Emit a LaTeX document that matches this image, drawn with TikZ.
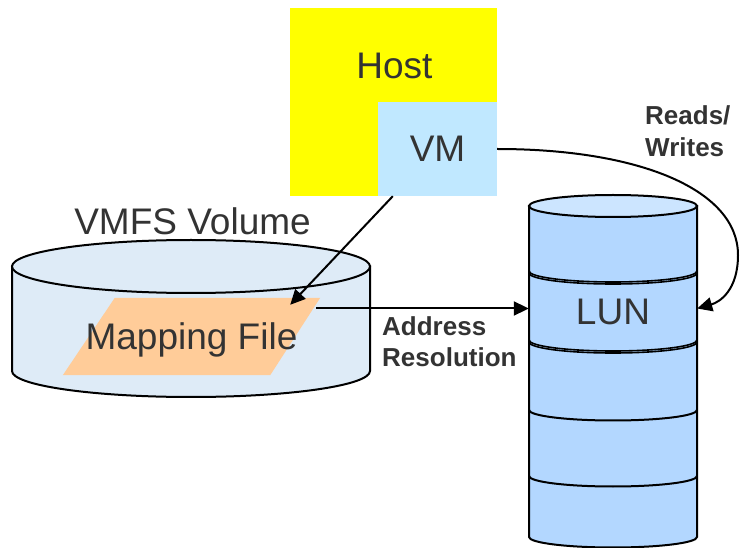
\documentclass[tikz,border=0pt]{standalone}
\usepackage{fontspec}
\setmainfont{Liberation Sans}
\usetikzlibrary{arrows.meta,backgrounds}

\definecolor{hostyellow}{HTML}{FFFF00}
\definecolor{vmblue}{HTML}{C0E8FF}
\definecolor{volfill}{HTML}{DEEBF7}
\definecolor{mapfill}{HTML}{FFCC99}
\definecolor{lunfill}{HTML}{B3D7FF}
\definecolor{luntop}{HTML}{CCE5FF}
\definecolor{txt}{HTML}{333333}

\tikzset{
  outline/.style={draw=black, line width=2pt},
  bigtext/.style={text=txt, font=\fontsize{37}{40}\selectfont},
  boldlabel/.style={text=txt, font=\bfseries\fontsize{26}{32}\selectfont, align=left, inner sep=0pt},
  link/.style={draw=black, line width=2pt, -{Triangle[length=15pt,width=14pt]}},
}

\begin{document}
\begin{tikzpicture}[x=1pt, y=-1pt]
\useasboundingbox (0,0) rectangle (740,548);

% Host box with the VM box in its lower right corner
\node[fill=hostyellow, minimum width=207pt, minimum height=188pt, inner sep=0pt] (host) at (393.5,102) {};
\node[bigtext, anchor=base] (hostlabel) at (394.5,79) {Host};
\node[fill=vmblue, minimum width=119pt, minimum height=94pt, inner sep=0pt,
      bigtext] (vm) at (437.5,149) {VM};

% VMFS volume drawn as a flat cylinder
\begin{scope}[on background layer]
  \path[outline, fill=volfill] (12,266.5) -- (12,371)
    arc[start angle=180, end angle=360, x radius=179pt, y radius=26pt]
    -- (370,266.5) -- cycle;
  \path[outline, fill=volfill] (191,266.5) ellipse[x radius=179pt, y radius=26.5pt];
\end{scope}
\node[bigtext, anchor=base] (vmfslabel) at (192.5,235) {VMFS Volume};

% Mapping file (parallelogram)
\node[bigtext, minimum width=257pt, minimum height=77pt, inner sep=0pt,
      text height=26pt, text depth=0pt] (map) at (191.5,336.5) {Mapping File};
\begin{scope}[on background layer]
  \fill[mapfill] ([xshift=52pt]map.north west) -- (map.north east)
    -- ([xshift=-50pt]map.south east) -- (map.south west) -- cycle;
\end{scope}

% LUN stack (tall cylinder with bands)
\path[outline, fill=lunfill] (529,206) -- (529,537)
  arc[start angle=180, end angle=360, x radius=84pt, y radius=10.5pt]
  -- (697,206) -- cycle;
\path[outline, fill=luntop] (613,206) ellipse[x radius=84pt, y radius=11pt];
\foreach \yc in {271,273,340,342} {
  \draw[line width=1.6pt] (529,\yc) arc[start angle=180, end angle=360, x radius=84pt, y radius=11pt];
}
\foreach \yc in {410,476} {
  \draw[line width=2pt] (529,\yc) arc[start angle=180, end angle=360, x radius=84pt, y radius=10.5pt];
}
\node[bigtext, minimum width=168pt, minimum height=60pt, inner sep=0pt] (lun) at (613,311.5) {LUN};

% Connectors
\draw[link] ([xshift=15pt]vm.south west) -- ([xshift=-30pt,yshift=-7pt]map.north east);
\draw[link] ([xshift=-4pt,yshift=28pt]map.east) -- ([yshift=3pt]lun.west);
\draw[link] (vm.east) .. controls (640,149) and (738,190) .. (738,255)
  .. controls (738,290) and (720,302) .. ([yshift=3pt]lun.east);

% Connector labels
\node[boldlabel, anchor=base west] (addr) at (382,367) {Address\\Resolution};
\node[boldlabel, anchor=base west] (rw) at (645,157) {Reads/\\Writes};
\end{tikzpicture}
\end{document}
